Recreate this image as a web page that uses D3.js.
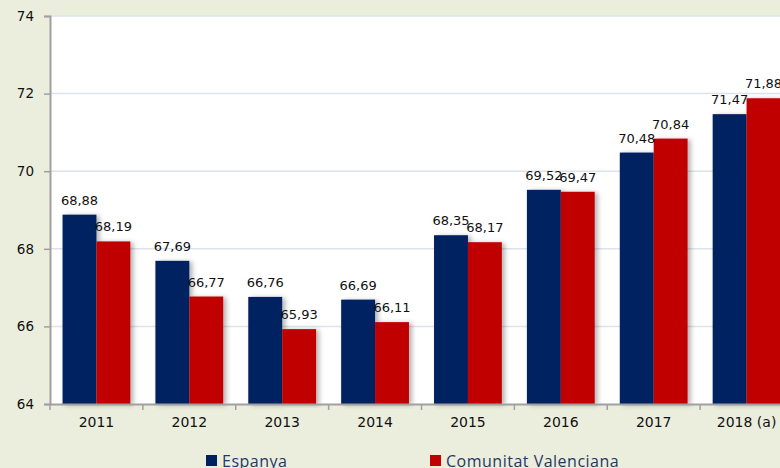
<!DOCTYPE html>
<html>
<head>
<meta charset="utf-8">
<script src="https://cdn.jsdelivr.net/npm/d3@7"></script>
<style>
  body { margin: 0; background: #ebeedd; }
  svg { display: block; }
</style>
</head>
<body>
<svg id="chart" width="780" height="468"></svg>
<script>
const years = ["2011", "2012", "2013", "2014", "2015", "2016", "2017", "2018 (a)"];
const espanya = [68.88, 67.69, 66.76, 66.69, 68.35, 69.52, 70.48, 71.47];
const valenciana = [68.19, 66.77, 65.93, 66.11, 68.17, 69.47, 70.84, 71.88];
const yTicks = [64, 66, 68, 70, 72, 74];
const seriesNames = ["Espanya", "Comunitat Valenciana"];
const colors = ["#002060", "#c00000"];

const margins = { top: 16, left: 50, bottom: 64 };
const totalHeight = 468;
const innerHeight = totalHeight - margins.top - margins.bottom;
const plotRight = 793;

const chart = d3.select("#chart");

const defs = chart.append("defs");
const shadow = defs.append("filter").attr("id", "shadow")
    .attr("x", "-20%").attr("y", "-5%").attr("width", "160%").attr("height", "110%");
shadow.append("feDropShadow")
    .attr("dx", 3).attr("dy", 1).attr("stdDeviation", 2.5)
    .attr("flood-color", "#000").attr("flood-opacity", 0.3);

// white plot area
chart.append("rect")
    .attr("x", margins.left)
    .attr("y", margins.top)
    .attr("width", plotRight - margins.left)
    .attr("height", innerHeight)
    .attr("fill", "white");

const xscale = d3.scaleBand(years, [margins.left, plotRight]);
const inner = d3.scaleBand([0, 1], [0, xscale.bandwidth()]).paddingOuter(0.37);
const yscale = d3.scaleLinear([64, 74], [margins.top + innerHeight, margins.top]);

// gridlines
chart.selectAll(".grid").data(yTicks.slice(1))
    .enter().append("line")
    .attr("class", "grid")
    .attr("x1", margins.left).attr("x2", plotRight)
    .attr("y1", d => yscale(d)).attr("y2", d => yscale(d))
    .attr("stroke", "#dce3ec").attr("stroke-width", 1.5);

// bars
const groups = chart.selectAll(".year").data(years)
    .enter().append("g")
    .attr("class", "year")
    .attr("transform", d => `translate(${xscale(d)},0)`);

[espanya, valenciana].forEach((vals, s) => {
    groups.append("rect")
        .attr("x", inner(s))
        .attr("y", (d, i) => yscale(vals[i]))
        .attr("width", inner.bandwidth())
        .attr("height", (d, i) => yscale(64) - yscale(vals[i]))
        .attr("fill", colors[s])
        .attr("filter", "url(#shadow)");
});

[espanya, valenciana].forEach((vals, s) => {
    groups.append("text")
        .attr("x", inner(s) + inner.bandwidth() / 2)
        .attr("y", (d, i) => yscale(vals[i]) - 10)
        .attr("text-anchor", "middle")
        .style("font-family", "DejaVu Sans")
        .style("font-size", "13px")
        .attr("fill", "#111")
        .text((d, i) => vals[i].toFixed(2).replace(".", ","));
});

// axes
const yaxis = d3.axisLeft(yscale).tickValues(yTicks).tickSize(6).tickPadding(10);
const gy = chart.append("g").attr("transform", `translate(${margins.left},0)`).call(yaxis);
gy.select(".domain").attr("stroke", "#a0a0a0").attr("stroke-width", 2);
gy.selectAll(".tick line").attr("stroke", "#a0a0a0").attr("stroke-width", 1.5);
gy.selectAll("text").style("font-family", "DejaVu Sans").style("font-size", "13.5px").attr("fill", "#111");

const xaxis = d3.axisBottom(xscale).tickSize(0).tickPadding(13);
const gx = chart.append("g").attr("transform", `translate(0,${yscale(64)})`).call(xaxis);
gx.select(".domain").attr("stroke", "#a0a0a0").attr("stroke-width", 2);
gx.selectAll("text").style("font-family", "DejaVu Sans").style("font-size", "14px").attr("fill", "#111");
// category boundary ticks
gx.selectAll(".sep").data(years)
    .enter().append("line")
    .attr("x1", d => xscale(d)).attr("x2", d => xscale(d))
    .attr("y1", 0).attr("y2", 6)
    .attr("stroke", "#a0a0a0").attr("stroke-width", 1.5);

// legend
const legendX = [206, 430];
const legend = chart.selectAll(".legend").data(seriesNames)
    .enter().append("g")
    .attr("class", "legend")
    .attr("transform", (d, i) => `translate(${legendX[i]},455)`);
legend.append("rect")
    .attr("width", 11).attr("height", 11)
    .attr("fill", (d, i) => colors[i]);
legend.append("text")
    .attr("x", 16).attr("y", 12)
    .style("font-family", "Open Sans")
    .style("font-size", "16px")
    .style("letter-spacing", "0.5px")
    .attr("fill", "#1f3864")
    .text(d => d);
</script>
</body>
</html>
